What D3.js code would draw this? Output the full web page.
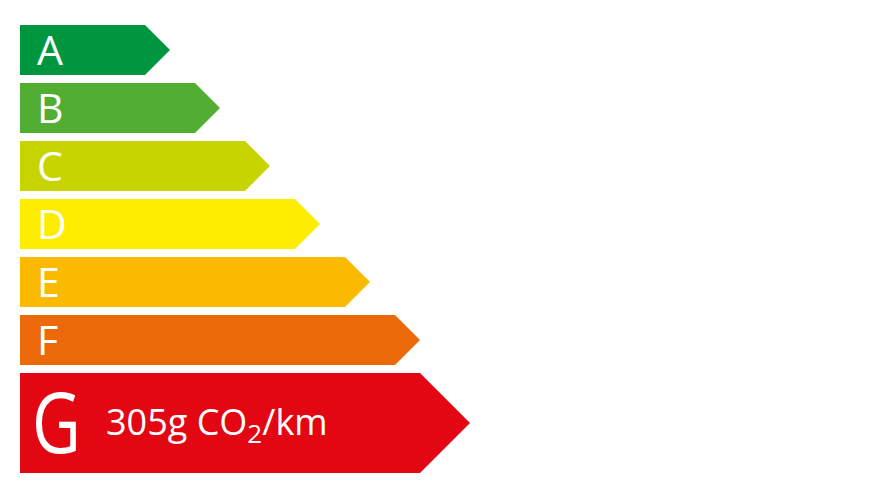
<!DOCTYPE html>
<html>
<head>
<meta charset="utf-8">
<script src="https://cdn.jsdelivr.net/npm/d3@7"></script>
<style>
  body { margin: 0; background: #fff; }
  svg text { font-family: "Open Sans", sans-serif; fill: #fff; }
</style>
</head>
<body>
<div id="chart"></div>
<script>
// energy classes, top to bottom
var classes = ["A", "B", "C", "D", "E", "F", "G"];
var colors = ["#009640", "#52ae32", "#c8d400", "#ffed00", "#fbba00", "#eb6909", "#e30613"];
// the rated class gets a taller bar and the emissions value
var ratedClass = "G";
var emissionValue = 305;
var emissionUnit = "g CO";
var emissionTail = "/km";

var width = 890, height = 500;
var margin = { top: 25, left: 20 };
var rowStep = 58, rowHeight = 50;

var svg = d3.select("#chart").append("svg")
    .attr("width", width)
    .attr("height", height);

// arrow tip position grows with the class rank
var xScale = d3.scaleLinear()
    .domain([0, classes.length - 1])
    .range([margin.left + 150, margin.left + 150 + 50 * (classes.length - 1)]);
var yScale = d3.scaleLinear()
    .domain([0, classes.length])
    .range([margin.top, margin.top + rowStep * classes.length]);

var rows = classes.map(function (c, i) {
    var rated = c === ratedClass;
    var h = rated ? rowHeight * 2 : rowHeight;
    return {
        name: c,
        color: colors[i],
        rated: rated,
        x0: margin.left,
        tip: xScale(i),
        y0: yScale(i),
        h: h
    };
});

var g = svg.selectAll("g.row")
    .data(rows)
    .enter().append("g")
    .attr("class", "row");

g.append("path")
    .attr("d", function (d) {
        var x1 = d.tip - d.h / 2;
        return "M" + d.x0 + "," + d.y0 +
            "L" + x1 + "," + d.y0 +
            "L" + d.tip + "," + (d.y0 + d.h / 2) +
            "L" + x1 + "," + (d.y0 + d.h) +
            "L" + d.x0 + "," + (d.y0 + d.h) + "Z";
    })
    .style("fill", function (d) { return d.color; });

g.append("text")
    .attr("transform", function (d) {
        var tx = d.x0 + (d.rated ? 12 : 17);
        var ty = d.y0 + d.h / 2 + (d.rated ? 30 : 15);
        return "translate(" + tx + "," + ty + ")" + (d.rated ? " scale(0.8,1)" : "");
    })
    .style("font-size", function (d) { return d.rated ? "84px" : "41px"; })
    .text(function (d) { return d.name; });

var rated = rows.filter(function (d) { return d.rated; })[0];
var label = svg.append("text")
    .attr("x", rated.x0 + 86)
    .attr("y", rated.y0 + rated.h / 2 + 12)
    .style("font-size", "36px");
label.append("tspan").text(emissionValue + emissionUnit);
label.append("tspan").attr("dy", 8).style("font-size", "26px").text("2");
label.append("tspan").attr("dy", -8).text(emissionTail);
</script>
</body>
</html>
